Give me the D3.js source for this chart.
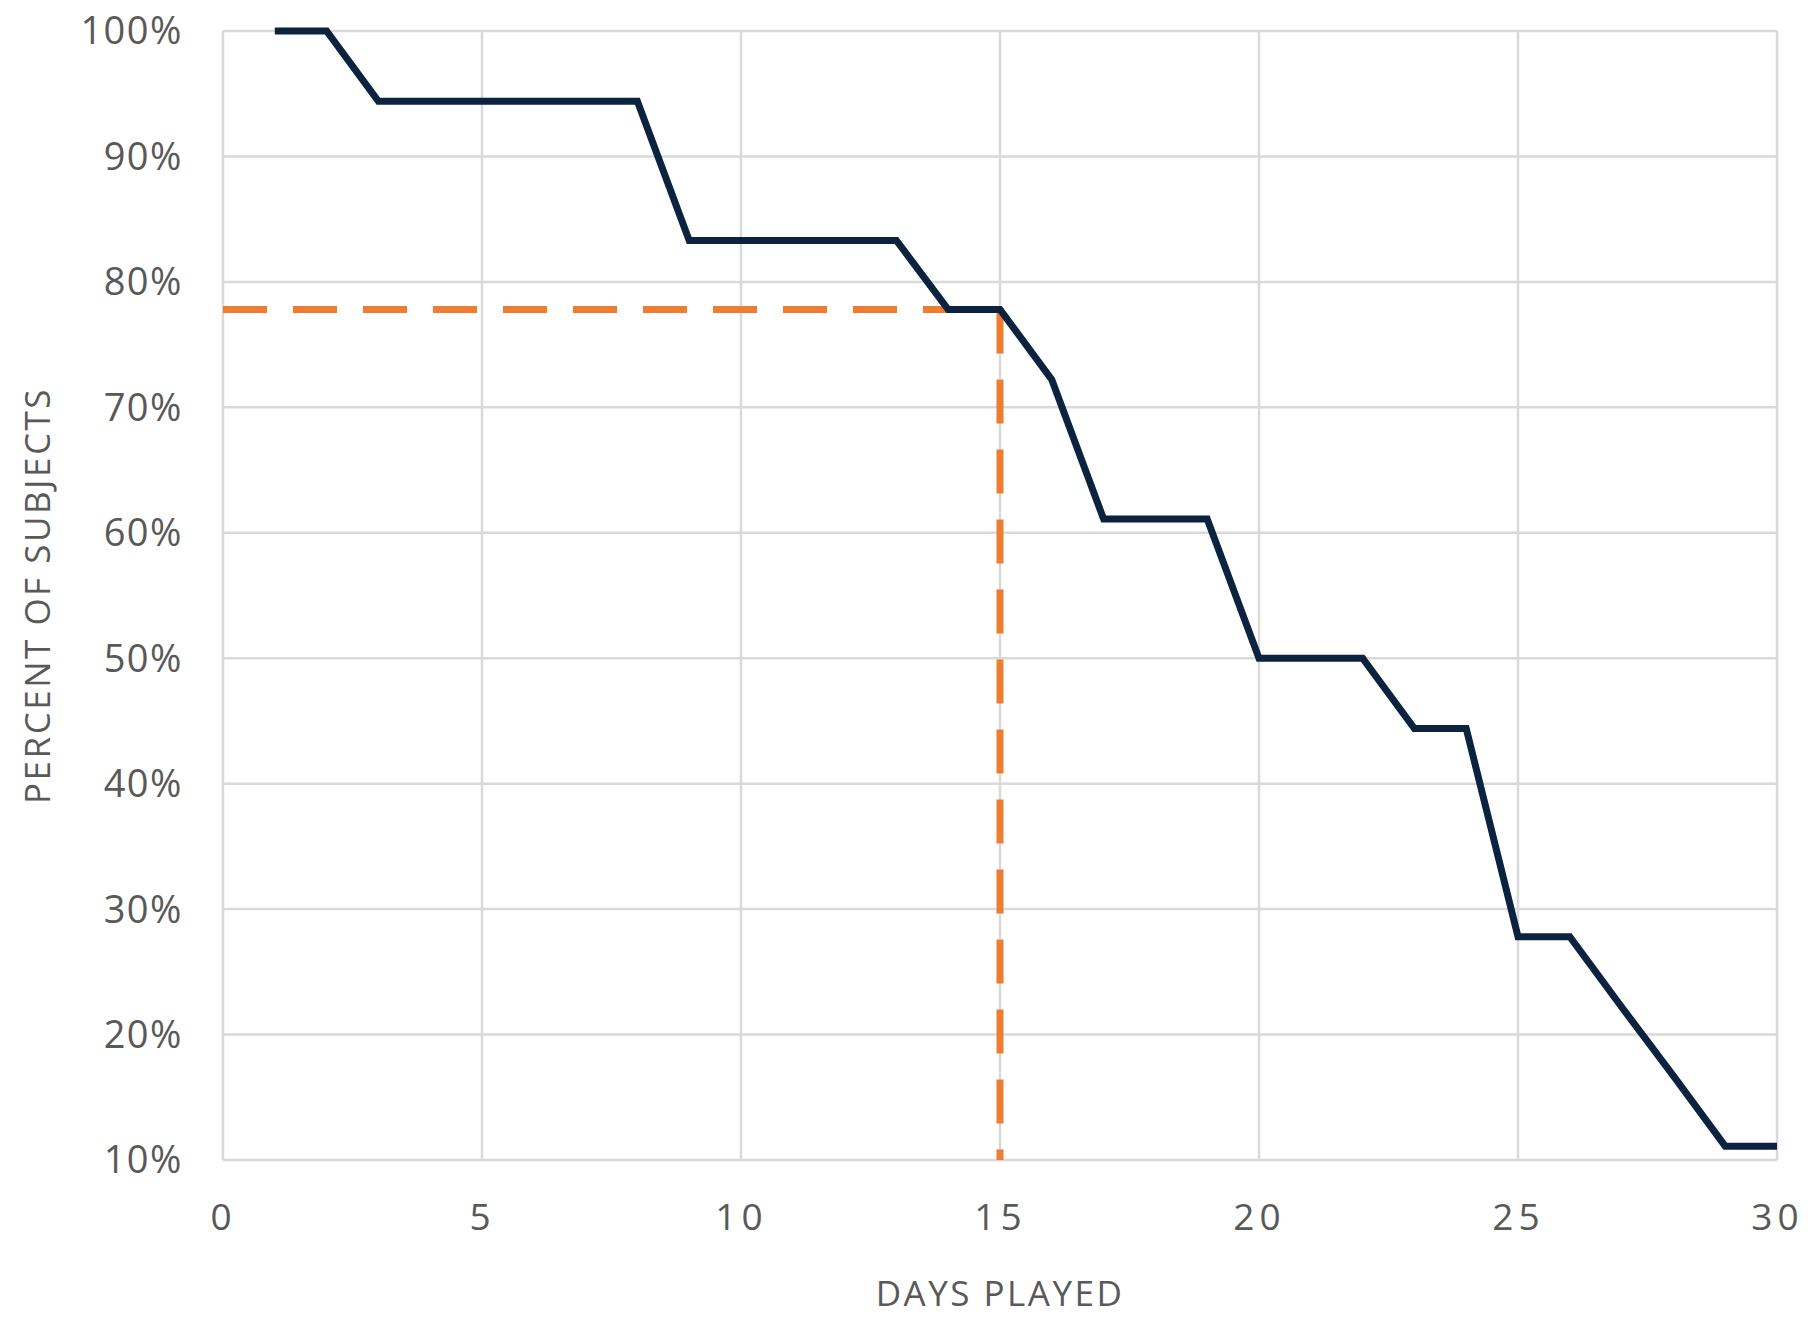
<!DOCTYPE html>
<html>
<head>
<meta charset="utf-8">
<script src="https://cdn.jsdelivr.net/npm/d3@7"></script>
<style>
  html, body { margin: 0; padding: 0; background: #fff; }
  svg { display: block; }
</style>
</head>
<body>
<svg id="chart" width="1818" height="1323"></svg>
<script>
// ---- data ----
const days = [1,2,3,4,5,6,7,8,9,10,11,12,13,14,15,16,17,18,19,20,21,22,23,24,25,26,27,28,29,30];
const percentSubjects = [100,100,94.4,94.4,94.4,94.4,94.4,94.4,83.3,83.3,83.3,83.3,83.3,77.8,77.8,72.2,61.1,61.1,61.1,50,50,50,44.4,44.4,27.8,27.8,22.2,16.7,11.1,11.1];
const markerDay = [15];
const markerPercent = [77.8];
const xTicks = [0,5,10,15,20,25,30];
const yTicks = [10,20,30,40,50,60,70,80,90,100];
const xTitle = "DAYS PLAYED";
const yTitle = "PERCENT OF SUBJECTS";

// ---- layout ----
const svg = d3.select("#chart");
const L = 223, R = 1777, T = 31, B = 1160;
const x = d3.scaleLinear().domain([0,30]).range([L,R]);
const y = d3.scaleLinear().domain([10,100]).range([B,T]);
const font = "'Open Sans', 'Noto Sans', sans-serif";
const textColor = "#595959";

// grid
const grid = svg.append("g");
grid.selectAll("line.h").data(yTicks).join("line")
  .attr("x1", L).attr("x2", R)
  .attr("y1", d => y(d)).attr("y2", d => y(d))
  .attr("stroke", "#d9d9d9").attr("stroke-width", 2.5);
grid.selectAll("line.v").data(xTicks).join("line")
  .attr("y1", T).attr("y2", B)
  .attr("x1", d => x(d)).attr("x2", d => x(d))
  .attr("stroke", "#d9d9d9").attr("stroke-width", 2.5);

// axes (labels only)
const yAxis = svg.append("g").attr("transform", `translate(${L},0)`)
  .call(d3.axisLeft(y).tickValues(yTicks).tickFormat(d => d + "%").tickSize(0).tickPadding(40));
yAxis.select(".domain").remove();
yAxis.selectAll("text").attr("font-family", font).attr("font-size", 38)
  .attr("fill", textColor).attr("letter-spacing", "1.5px").attr("dy", "0.34em");

const xAxis = svg.append("g").attr("transform", `translate(0,${B})`)
  .call(d3.axisBottom(x).tickValues(xTicks).tickFormat(d => String(d)).tickSize(0).tickPadding(44));
xAxis.select(".domain").remove();
xAxis.selectAll("text").attr("font-family", font).attr("font-size", 37)
  .attr("fill", textColor).attr("letter-spacing", "5px").attr("dy", "0.71em");

// orange dashed reference lines
const dash = svg.append("g").attr("fill", "none").attr("stroke", "#ed7d31")
  .attr("stroke-width", 7).attr("stroke-dasharray", "44,26");
dash.append("path")
  .attr("d", d3.line()([[x(0), y(markerPercent[0])], [x(markerDay[0]), y(markerPercent[0])]]));
dash.append("path")
  .attr("d", d3.line()([[x(markerDay[0]), y(markerPercent[0])], [x(markerDay[0]), y(10)]]));

// main line
const pts = days.map((d,i) => [d, percentSubjects[i]]);
svg.append("path")
  .attr("d", d3.line().x(d => x(d[0])).y(d => y(d[1]))(pts))
  .attr("fill", "none").attr("stroke", "#0c2340").attr("stroke-width", 7)
  .attr("stroke-linejoin", "miter");

// titles
svg.append("text").attr("x", (L+R)/2).attr("y", 1306)
  .attr("text-anchor", "middle").attr("font-family", font).attr("font-size", 35)
  .attr("letter-spacing", "2.5px")
  .attr("fill", textColor).text(xTitle);
svg.append("text").attr("transform", `translate(50,${(T+B)/2}) rotate(-90)`)
  .attr("text-anchor", "middle").attr("font-family", font).attr("font-size", 35)
  .attr("letter-spacing", "2.5px")
  .attr("fill", textColor).text(yTitle);
</script>
</body>
</html>
